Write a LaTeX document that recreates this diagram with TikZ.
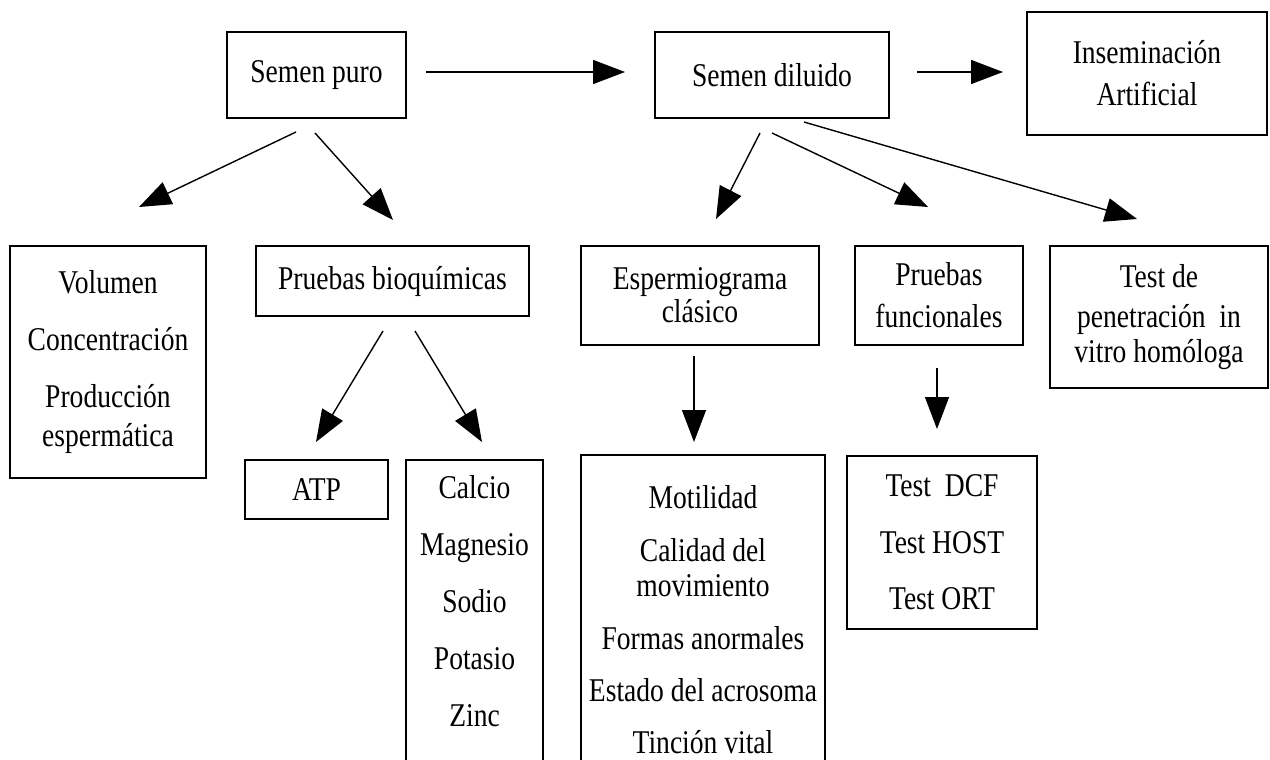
\documentclass[tikz,border=0pt]{standalone}
\usepackage{fontspec}
\setmainfont{Liberation Serif}[FakeStretch=0.83]
\usetikzlibrary{arrows.meta}

\begin{document}
\begin{tikzpicture}[x=0.5pt,y=-0.5pt,
  every node/.style={align=center,font=\fontsize{16.6}{18}\selectfont},
  box/.style={draw,line width=0.8pt,inner sep=0pt},
  flow/.style={-{Triangle[length=16pt,width=12pt]},line width=0.7pt}]

    \clip (0,0) rectangle (1270,760);

    % first level
    \node[box,minimum width=89.5pt,minimum height=43pt](puro) at (316.5,75) {Semen puro};
    \node[box,minimum width=117pt,minimum height=43pt](diluido) at (772,75) {Semen diluido};
    \node[box,minimum width=120pt,minimum height=61.5pt](insem) at (1147,73.5) {Inseminación\\[3pt]Artificial};

    % second level
    \node[box,minimum width=98pt,minimum height=116pt](volumen) at (108,362)
        {Volumen\\[10.5pt]Concentración\\[10.5pt]Producción\\[1.5pt]espermática};
    \node[box,minimum width=136.5pt,minimum height=35pt](bioq) at (392.5,281) {Pruebas bioquímicas};
    \node[box,minimum width=119pt,minimum height=49.5pt](esperm) at (700,295.5) {Espermiograma\\[-1.5pt]clásico};
    \node[box,minimum width=84pt,minimum height=49.5pt](funcion) at (939,295.5) {Pruebas\\[3pt]funcionales};
    \node[box,minimum width=109pt,minimum height=71pt](penetr) at (1159,317)
        {Test de\\[2pt]penetración~ in\\[-0.5pt]vitro homóloga};

    % third level
    \node[box,minimum width=71.5pt,minimum height=29.5pt](atp) at (316.5,489.5) {ATP};
    \node[box,minimum width=68.5pt,minimum height=169.5pt](iones) at (474.5,629.5)
        {Calcio\\[10.5pt]Magnesio\\[10.5pt]Sodio\\[10.5pt]Potasio\\[10.5pt]Zinc\\[10.5pt]\mbox{}};
    \node[box,minimum width=122pt,minimum height=164.5pt](motil) at (703,619.5)
        {Motilidad\\[8.5pt]Calidad del\\[-0.5pt]movimiento\\[8.5pt]Formas anormales\\[8pt]Estado del acrosoma\\[8pt]Tinción vital};
    \node[box,minimum width=95pt,minimum height=86.5pt](tests) at (942,542.5)
        {Test~ DCF\\[10.5pt]Test HOST\\[10pt]Test ORT};

    % free ends of the arrows
    \coordinate (puro-e) at (426,72);   \coordinate (diluido-w) at (625,72);
    \coordinate (diluido-e) at (917,72); \coordinate (insem-w) at (1003,72);
    \coordinate (puro-s1) at (296,132);  \coordinate (volumen-n) at (139,207);
    \coordinate (puro-s2) at (315,133);  \coordinate (bioq-n) at (393,220);
    \coordinate (diluido-s1) at (760,133); \coordinate (esperm-n) at (716,219);
    \coordinate (diluido-s2) at (772,133); \coordinate (funcion-n) at (928,207);
    \coordinate (diluido-s3) at (804,122); \coordinate (penetr-n) at (1137,219);
    \coordinate (bioq-s1) at (383,331);  \coordinate (atp-n) at (316,442);
    \coordinate (bioq-s2) at (415,331);  \coordinate (iones-n) at (482,442);
    \coordinate (esperm-s) at (694,356); \coordinate (motil-n) at (694,442);
    \coordinate (funcion-s) at (937,368); \coordinate (tests-n) at (937,429);

    \draw[flow](puro-e) -- (diluido-w);
    \draw[flow](diluido-e) -- (insem-w);
    \draw[flow](puro-s1) -- (volumen-n);
    \draw[flow](puro-s2) -- (bioq-n);
    \draw[flow](diluido-s1) -- (esperm-n);
    \draw[flow](diluido-s2) -- (funcion-n);
    \draw[flow](diluido-s3) -- (penetr-n);
    \draw[flow](bioq-s1) -- (atp-n);
    \draw[flow](bioq-s2) -- (iones-n);
    \draw[flow](esperm-s) -- (motil-n);
    \draw[flow](funcion-s) -- (tests-n);
\end{tikzpicture}
\end{document}
